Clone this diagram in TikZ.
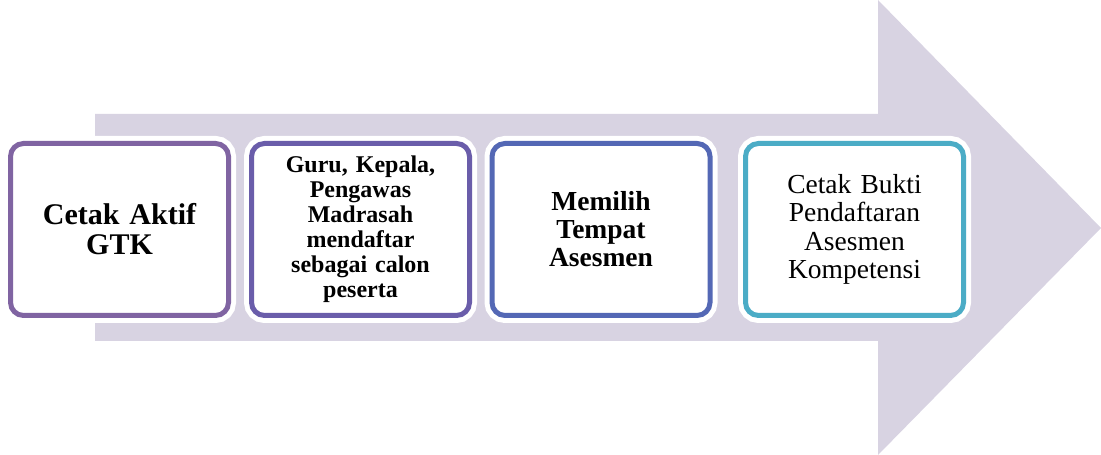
\documentclass[tikz,border=0pt]{standalone}
\usepackage{fontspec}
\setmainfont{Liberation Serif}
\definecolor{arrowfill}{HTML}{D8D3E2}
\definecolor{cA}{HTML}{8064A2}
\definecolor{cB}{HTML}{6A5DAA}
\definecolor{cC}{HTML}{5468B5}
\definecolor{cD}{HTML}{4BACC6}
\tikzset{
  stepbox/.style={draw=#1, line width=5pt, fill=white, rounded corners=13pt,
    preaction={draw=white, line width=15pt},
    minimum width=218pt, minimum height=172pt, inner sep=2pt, align=center,
    text width=205pt},
}
\begin{document}
\begin{tikzpicture}[x=1pt,y=1pt]
\useasboundingbox (0,0) rectangle (1101,455);
\fill[arrowfill] (95,341) -- (878,341) -- (878,455) -- (1101,227) -- (878,0) -- (878,114) -- (95,114) -- cycle;
\node[stepbox=cA, font=\bfseries\fontsize{30}{30}\selectfont] (s1) at (119.5,225.5) {Cetak Aktif\\GTK};
\node[stepbox=cB, font=\bfseries\fontsize{24}{25}\selectfont] (s2) at (360.5,225.5) {Guru, Kepala,\\Pengawas\\Madrasah\\mendaftar\\sebagai calon\\peserta};
\node[stepbox=cC, font=\bfseries\fontsize{27.5}{28}\selectfont] (s3) at (601,225.5) {Memilih\\Tempat\\Asesmen};
\node[stepbox=cD, font=\fontsize{27.5}{28.3}\selectfont] (s4) at (854.5,225.5) {Cetak Bukti\\Pendaftaran\\Asesmen\\Kompetensi};
\end{tikzpicture}
\end{document}
